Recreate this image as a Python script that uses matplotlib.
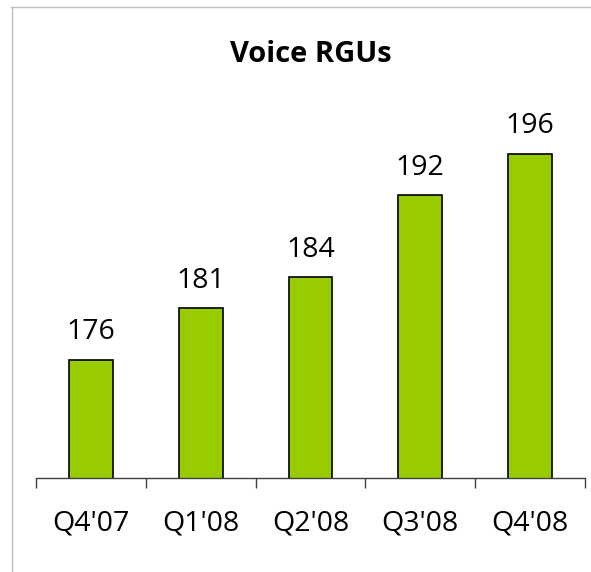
import matplotlib.pyplot as plt
from matplotlib.lines import Line2D

quarters = ["Q4'07", "Q1'08", "Q2'08", "Q3'08", "Q4'08"]
voice_rgus = [176, 181, 184, 192, 196]

plt.rcParams['font.family'] = ['Open Sans', 'DejaVu Sans']

fig = plt.figure(figsize=(5.91, 5.72), dpi=100)
ax = fig.add_axes([36/591, 94/572, 549/591, 378/572])

x = range(len(quarters))
bars = ax.bar(x, voice_rgus, width=0.4, color='#99cc00', edgecolor='black', linewidth=1.2)
ax.set_xlim(-0.5, len(quarters) - 0.5)
ax.set_ylim(164.5, 201.2)

# value labels over the bars
for b, v in zip(bars, voice_rgus):
    ax.annotate(str(v), (b.get_x() + b.get_width()/2, b.get_height()),
                xytext=(0, 14.5), textcoords='offset points',
                ha='center', va='baseline', fontsize=20.5)

# ticks at category boundaries, labels centred
ax.set_xticks([i - 0.5 for i in range(len(quarters) + 1)])
ax.set_xticklabels([])
ax.tick_params(axis='x', which='major', direction='out', length=7.2, width=1, color='#404040')
ax.set_xticks(list(x), minor=True)
ax.set_xticklabels(quarters, minor=True, fontsize=20.5)
ax.tick_params(axis='x', which='minor', length=0, pad=23)
ax.set_yticks([])

for s in ['top', 'right', 'left']:
    ax.spines[s].set_visible(False)
ax.spines['bottom'].set_color('#404040')
ax.spines['bottom'].set_linewidth(1)

fig.text(311/591, 1 - 55/572, 'Voice RGUs', ha='center', va='center',
         fontsize=21, fontweight='bold')

# frame lines
fig.add_artist(Line2D([11/591, 1], [1 - 7/572, 1 - 7/572], color='#c0c0c0', lw=1))
fig.add_artist(Line2D([12/591, 12/591], [0, 1 - 7/572], color='#c0c0c0', lw=1))

fig.savefig('out.png', dpi=100)
